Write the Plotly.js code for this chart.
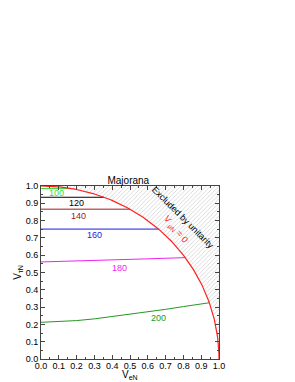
<!DOCTYPE html>
<html><head><meta charset="utf-8">
<script src="https://cdn.plot.ly/plotly-3.0.1.min.js"></script>
<style>body{margin:0;background:#fff}#c{width:295px;height:382px}</style>
</head><body><div id="c"></div>
<script>
// Data
const masses = ["100","120","140","160","180","200"];
const lineColors = ["#33dd33","#000000","#a01818","#1a1ae6","#ee22ee","#229922"];
const xs100 = [0, 0.17];           const ys100 = [0.985, 0.985];
const xs120 = [0, 0.355];          const ys120 = [0.935, 0.935];
const xs140 = [0, 0.5];            const ys140 = [0.866, 0.866];
const xs160 = [0, 0.66];           const ys160 = [0.751, 0.751];
const xs180 = [0, 0.2, 0.4, 0.6, 0.81]; const ys180 = [0.561, 0.566, 0.572, 0.579, 0.586];
const xs200 = [0, 0.1, 0.2, 0.3, 0.4, 0.5, 0.6, 0.7, 0.8, 0.9, 0.945];
const ys200 = [0.212, 0.215, 0.222, 0.232, 0.245, 0.258, 0.272, 0.287, 0.303, 0.318, 0.325];
const labelX = [0.085, 0.2, 0.21, 0.3, 0.44, 0.66];
const labelY = [0.962, 0.9, 0.825, 0.715, 0.525, 0.235];
const xsAll = [xs100, xs120, xs140, xs160, xs180, xs200];
const ysAll = [ys100, ys120, ys140, ys160, ys180, ys200];

// Unitarity circle x^2 + y^2 = 1
const circX = [], circY = [];
for (let i = 0; i <= 180; i++) { const t = Math.PI/2 * i/180; circX.push(Math.sin(t)); circY.push(Math.cos(t)); }
const hatchX = circX.concat([1, 0]);
const hatchY = circY.concat([1, 1]);

const font = "Liberation Sans, Arial, sans-serif";
const traces = [{
  x: hatchX, y: hatchY, mode: "lines", fill: "toself", line: {width: 0},
  fillcolor: "rgba(0,0,0,0)",
  fillpattern: {shape: "/", fgcolor: "#c4c4c4", bgcolor: "#ffffff", size: 3, solidity: 0.2},
  hoverinfo: "skip", showlegend: false
}];
for (let i = 0; i < masses.length; i++) {
  traces.push({x: xsAll[i], y: ysAll[i], mode: "lines", line: {color: lineColors[i], width: 1}, showlegend: false});
}
traces.push({x: circX, y: circY, mode: "lines", line: {color: "#ff2020", width: 1.2}, showlegend: false});

const annotations = masses.map((m, i) => ({
  x: labelX[i], y: labelY[i], text: m, showarrow: false,
  font: {family: font, size: 9, color: lineColors[i]}
}));
annotations.push({x: 0.8, y: 0.815, text: "Excluded by unitarity", showarrow: false, textangle: 45,
  font: {family: font, size: 9, color: "#000"}});
annotations.push({x: 0.755, y: 0.745, text: "V <sub>μN</sub> = 0", showarrow: false, textangle: 50,
  font: {family: font, size: 9, color: "#ff2020"}});
annotations.push({xref: "x", x: 0.5, yref: "paper", y: 0, yshift: -16, yanchor: "middle", borderpad: 0,
  text: "V<sub>eN</sub>", showarrow: false, font: {family: font, size: 10, color: "#000"}});

const axisCommon = {
  range: [0, 1], dtick: 0.1, tickformat: ".1f", ticks: "inside", ticklen: 4, tickcolor: "#444",
  showline: true, linecolor: "#444", linewidth: 1, mirror: "ticks", showgrid: false, zeroline: false,
  tickfont: {family: font, size: 9, color: "#000"},
  minor: {ticks: "inside", dtick: 0.05, ticklen: 2, tickcolor: "#444"}
};
const layout = {
  width: 295, height: 382,
  margin: {l: 41, r: 76, t: 186, b: 23},
  paper_bgcolor: "#fff", plot_bgcolor: "#fff",
  title: {text: "Majorana", font: {family: font, size: 10, color: "#000"}, x: 0.435, xanchor: "center", y: 0.528, yanchor: "middle"},
  xaxis: Object.assign({}, axisCommon, {automargin: false, ticklabelstandoff: -2}),
  yaxis: Object.assign({}, axisCommon, {automargin: false, title: {text: "V<sub>τN</sub>", font: {family: font, size: 10, color: "#000"}, standoff: 2}}),
  annotations: annotations
};
Plotly.newPlot("c", traces, layout, {staticPlot: true});
</script></body></html>
